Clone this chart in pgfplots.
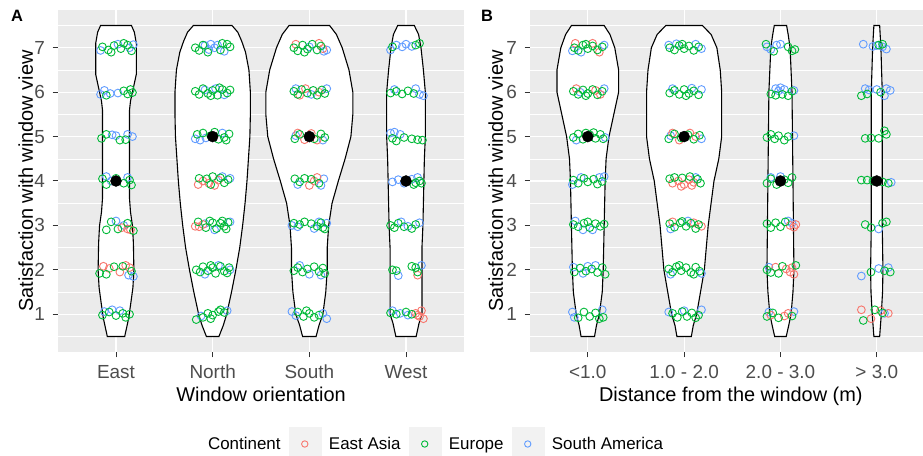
\documentclass[border=0pt]{standalone}
\usepackage{pgfplots}
\usepackage{pgfplotstable}
\pgfplotsset{compat=1.18}
\usepgfplotslibrary{fillbetween}
\usepackage{fontspec}
\setmainfont{Liberation Sans}

\definecolor{ea}{HTML}{F8766D}
\definecolor{eu}{HTML}{00BA38}
\definecolor{sa}{HTML}{619CFF}
\definecolor{panel}{HTML}{EBEBEB}
\definecolor{keybg}{HTML}{F2F2F2}
\definecolor{gray20}{HTML}{333333}
\definecolor{gray30}{HTML}{4D4D4D}

% violin outlines: y, half width (x units)
\pgfplotstableread{
y w
7.5 0.16
7.35 0.19
7.1 0.21
6.4 0.21
6.2 0.19
6.0 0.17
5.8 0.15
5.6 0.14
3.6 0.14
3.3 0.15
3.0 0.17
2.6 0.18
2.0 0.185
1.6 0.175
1.2 0.15
0.9 0.13
0.7 0.11
0.5 0.09
}\vEast
\pgfplotstableread{
y w
7.5 0.20
7.35 0.26
7.15 0.30
6.9 0.34
6.5 0.375
6.0 0.39
5.5 0.39
5.0 0.385
4.5 0.37
4.0 0.355
3.5 0.335
3.0 0.31
2.5 0.28
2.0 0.24
1.5 0.195
1.0 0.145
0.75 0.11
0.5 0.065
}\vNorth
\pgfplotstableread{
y w
7.5 0.21
7.3 0.28
7.0 0.34
6.5 0.41
6.0 0.45
5.5 0.45
5.0 0.43
4.5 0.37
4.0 0.30
3.5 0.235
3.0 0.20
2.5 0.185
2.0 0.185
1.5 0.17
1.0 0.14
0.75 0.10
0.5 0.07
}\vSouth
\pgfplotstableread{
y w
7.5 0.086
7.3 0.13
7.0 0.155
6.5 0.18
6.0 0.20
5.0 0.20
4.5 0.19
4.0 0.185
3.0 0.175
2.5 0.165
1.0 0.165
0.8 0.135
0.5 0.105
}\vWest
\pgfplotstableread{
y w
7.5 0.17
7.3 0.23
7.0 0.28
6.5 0.32
6.0 0.32
5.5 0.27
5.0 0.22
4.5 0.19
4.0 0.18
3.0 0.17
2.0 0.16
1.5 0.15
1.0 0.12
0.75 0.09
0.5 0.07
}\vBa
\pgfplotstableread{
y w
7.5 0.19
7.3 0.28
7.0 0.34
6.5 0.375
6.0 0.39
5.0 0.39
4.5 0.36
4.0 0.31
3.5 0.28
3.0 0.25
2.5 0.23
2.0 0.21
1.5 0.17
1.0 0.13
0.75 0.095
0.5 0.075
}\vBb
\pgfplotstableread{
y w
7.5 0.064
7.3 0.08
7.0 0.10
6.5 0.11
6.0 0.12
5.0 0.125
4.0 0.13
3.0 0.135
2.0 0.14
1.5 0.13
1.0 0.11
0.75 0.086
0.5 0.06
}\vBc
\pgfplotstableread{
y w
7.5 0.03
7.0 0.043
6.0 0.057
3.0 0.057
2.0 0.064
1.5 0.06
1.0 0.047
0.5 0.03
}\vBd

\newcommand{\violin}[3]{%
  \addplot[draw=none, forget plot, name path=#3R] table[x expr=#1+\thisrow{w}, y=y] {#2};
  \addplot[draw=none, forget plot, name path=#3L] table[x expr=#1-\thisrow{w}, y=y] {#2};
  \addplot[fill=white, draw=black, line width=1.1bp, forget plot] fill between[of=#3R and #3L, reverse=true];
}

\pgfplotsset{
  gg/.style={
    scale only axis, height=342bp,
    ymin=0.15, ymax=7.85, xmin=0.4,
    axis background/.style={fill=panel},
    axis line style={draw=none},
    ytick={1,...,7}, minor ytick={0.5,1.5,...,7.5},
    xtick={1,2,3,4},
    xtick pos=bottom, ytick pos=left,
    grid=both,
    major grid style={white, line width=1.1bp},
    minor grid style={white, line width=0.55bp},
    tick align=outside, major tick length=5.5bp, minor tick length=0pt,
    major tick style={color=gray20, line width=1bp},
    tick label style={font=\fontsize{19}{21}\selectfont, text=gray30},
    yticklabel style={xshift=-4bp},
    xticklabel style={yshift=-4bp},
    /pgf/number format/assume math mode=true,
    ylabel={Satisfaction with window view},
  },
  pts/.style={only marks, mark=o, mark size=3.9bp, mark options={line width=0.9bp}, forget plot},
}

\begin{document}
\begin{tikzpicture}

\begin{axis}[gg, at={(58bp,104bp)}, anchor=south west, width=406bp, xmax=4.6,
  xticklabels={East,North,South,West},
  xlabel={Window orientation},
  x label style={at={(axis description cs:0.5,-0.146)}, anchor=base, font=\fontsize{20}{22}\selectfont},
  y label style={at={(axis description cs:-0.062,0.5)}, anchor=base, font=\fontsize{20}{22}\selectfont}]
\violin{1}{\vEast}{ve}
\violin{2}{\vNorth}{vn}
\violin{3}{\vSouth}{vs}
\violin{4}{\vWest}{vw}
% South America
\addplot[pts, sa] coordinates {
(0.84,6.94) (1.02,7.08) (1.14,7.00) (1.18,7.07)
(0.84,5.95) (0.88,6.04) (0.94,5.97) (1.02,5.98)
(0.96,5.04) (1.00,5.02) (1.12,5.05) (1.17,5.00)
(0.90,4.10) (0.95,4.00) (1.12,4.08)
(1.00,3.10) (1.08,3.00) (1.13,1.88) (1.18,1.85)
(0.88,1.06) (0.96,1.10) (1.04,1.08)
(1.92,7.05) (1.98,7.08) (2.02,7.00) (2.05,7.06) (1.96,6.96) (2.12,6.92)
(1.92,6.05) (2.03,6.08) (2.12,5.94)
(1.82,4.95) (1.87,4.92) (1.93,4.97) (2.10,5.08)
(2.10,4.10) (2.18,4.06)
(1.92,3.04) (2.18,3.08) (2.02,2.90)
(1.92,1.90) (2.06,2.10) (2.18,2.00)
(1.88,0.96) (2.15,1.08)
(3.15,6.92) (3.18,6.95) (3.00,7.02)
(2.86,6.08) (3.02,5.95) (3.18,6.08)
(3.14,4.92) (2.86,5.02)
(2.88,3.92) (3.12,3.90) (3.15,4.05)
(2.82,3.00) (2.88,2.97) (3.05,2.93) (3.10,3.08) (3.18,3.05)
(2.90,2.10) (3.00,1.90) (3.12,1.88)
(2.82,1.06) (2.86,0.97) (3.14,1.02) (3.18,0.90)
(3.84,6.95) (3.90,7.06) (3.96,7.02) (4.00,7.08) (4.06,7.03)
(3.88,6.06) (4.10,6.08) (4.14,5.95) (4.18,5.92)
(3.84,5.08) (3.88,5.10) (3.94,5.05)
(3.86,3.98) (3.92,4.03) (3.98,3.95) (4.06,4.04) (4.12,4.08)
(3.95,3.08) (4.02,2.98) (4.14,3.06)
(3.92,1.87) (4.16,2.10)
(3.86,1.08) (3.94,1.02) (4.02,0.98)
};
% East Asia
\addplot[pts, ea] coordinates {
(1.06,2.95) (1.12,2.92) (1.15,2.90)
(0.87,2.08) (0.93,2.03) (1.10,2.10) (1.14,2.05) (1.04,1.95)
(1.85,3.92) (1.90,4.00) (1.96,3.95) (2.02,3.90) (2.06,4.02)
(1.82,2.98) (1.86,2.97) (1.90,3.02)
(2.86,7.08) (3.10,7.10) (3.14,6.98)
(2.96,6.08) (3.10,6.00) (2.90,5.93)
(2.88,5.08) (2.95,4.93) (3.02,5.07) (3.08,4.92)
(3.00,3.90) (3.05,4.00) (3.08,4.08)
(4.12,1.88)
(4.10,1.02) (4.14,0.95) (4.16,1.08) (4.18,0.90) (4.12,0.98)
};
% Europe
\addplot[pts, eu] coordinates {
(0.86,7.02) (0.92,6.95) (0.98,7.05) (1.05,6.98) (1.12,7.06) (1.16,6.93) (0.95,6.90) (1.08,7.10)
(0.90,5.93) (1.08,6.03) (1.12,5.96) (1.15,6.06) (1.17,5.99)
(0.85,4.96) (0.90,5.05) (1.04,4.92) (1.10,4.93)
(0.86,4.05) (0.90,3.92) (1.00,4.06) (1.08,3.95) (1.14,4.02) (1.16,3.91)
(0.90,2.90) (0.95,3.08) (1.02,2.92) (1.12,3.05) (1.18,2.88)
(0.83,1.92) (0.90,1.90) (0.98,2.07) (1.07,2.08) (1.16,1.97)
(0.86,0.98) (0.93,1.05) (1.00,0.97) (1.07,1.02) (1.14,1.00) (1.10,0.93)
(1.82,7.00) (1.86,6.94) (1.90,7.06) (2.08,6.95) (2.15,7.08) (1.95,6.90) (2.10,7.10) (2.18,7.02)
(1.82,6.02) (1.86,5.95) (1.90,6.08) (1.95,5.97) (2.00,6.04) (2.05,5.93) (2.10,6.06) (2.15,5.98) (2.18,6.05) (1.98,5.92) (2.07,6.10)
(1.84,5.05) (1.90,5.08) (1.98,5.02) (2.06,4.94) (2.12,4.98) (2.17,5.06) (2.02,5.10) (2.14,4.92)
(1.86,4.06) (1.94,4.05) (2.00,4.10) (2.08,4.07) (2.12,3.96) (2.16,4.03) (1.98,3.92)
(1.85,3.08) (1.93,2.95) (2.00,3.06) (2.04,2.93) (2.08,3.05) (2.12,2.98) (2.16,3.07) (2.14,2.92) (1.97,3.10) (2.10,3.10)
(1.83,2.00) (1.87,1.95) (1.90,2.07) (1.95,1.98) (2.00,2.05) (2.03,1.92) (2.08,2.08) (2.12,1.97) (2.17,2.05) (2.15,1.93) (1.98,2.10)
(1.83,0.88) (1.90,0.93) (1.95,1.02) (2.00,0.98) (2.06,1.06) (2.12,1.04) (1.98,0.90) (2.08,1.10)
(2.84,7.00) (2.88,6.93) (2.93,7.06) (2.98,6.97) (3.03,7.08) (3.08,6.95) (3.12,7.04) (2.95,6.90)
(2.84,6.02) (2.88,5.95) (2.92,6.06) (2.98,5.98) (3.04,6.04) (3.08,5.93) (3.13,6.05) (3.16,5.97)
(2.85,4.95) (2.90,5.05) (3.05,4.95) (3.12,5.06) (3.16,4.98)
(2.85,4.05) (2.90,3.98) (2.95,4.06) (3.02,4.04) (3.10,3.95)
(2.84,3.05) (2.90,3.02) (2.95,3.08) (3.02,3.04) (3.08,2.98) (3.14,2.95) (3.16,2.92) (3.12,3.06)
(2.84,1.98) (2.88,2.05) (2.93,1.95) (2.98,2.02) (3.05,2.07) (3.10,1.96) (3.14,2.04) (3.16,1.92)
(2.88,1.05) (2.94,0.95) (3.00,1.02) (3.05,0.93) (3.10,0.98) (2.97,1.08)
(3.86,7.02) (4.10,7.06) (4.14,7.10)
(3.84,5.98) (3.90,6.02) (3.96,5.96) (4.02,6.03) (4.08,5.97)
(3.86,4.96) (3.90,4.90) (3.98,4.98) (4.06,4.95) (4.12,4.93) (4.17,4.92)
(4.08,3.92) (4.14,4.00) (4.16,3.95) (4.10,3.96)
(3.84,3.00) (3.88,2.95) (3.92,3.05) (3.98,2.97) (4.06,2.93) (4.10,3.02)
(3.86,2.00) (3.90,1.98) (4.06,2.08) (4.10,2.05) (4.12,1.95)
(3.84,1.03) (3.90,1.00) (4.00,1.05) (4.06,1.00)
};
% medians
\addplot[only marks, mark=*, mark size=5.5bp, black, forget plot] coordinates {(1,4) (2,5) (3,5) (4,4)};
\end{axis}

\begin{axis}[gg, at={(530bp,104bp)}, anchor=south west, width=393bp, xmax=4.48,
  xticklabels={{<1.0},{1.0 - 2.0},{2.0 - 3.0},{> 3.0}},
  xlabel={Distance from the window (m)},
  x label style={at={(axis description cs:0.511,-0.146)}, anchor=base, font=\fontsize{20}{22}\selectfont},
  y label style={at={(axis description cs:-0.069,0.5)}, anchor=base, font=\fontsize{20}{22}\selectfont},
  legend style={at={(axis description cs:-0.84,-0.269)}, anchor=west, draw=none, fill=none,
    legend columns=-1, inner sep=0pt, font=\fontsize{17}{19}\selectfont,
    /tikz/every odd column/.append style={column sep=8bp},
    /tikz/every even column/.append style={column sep=8bp},
    nodes={inner sep=0pt}}]
\violin{1}{\vBa}{ba}
\violin{2}{\vBb}{bb}
\violin{3}{\vBc}{bc}
\violin{4}{\vBd}{bd}
% South America
\addplot[pts, sa] coordinates {
(0.84,6.93) (1.17,7.06) (0.93,6.90)
(1.17,6.08) (0.92,6.00)
(0.88,4.92) (1.18,4.98)
(0.84,3.92) (0.93,4.08) (1.12,4.08) (1.17,4.10)
(0.87,3.10) (0.95,2.90) (1.05,2.90)
(0.85,2.06) (0.95,1.92) (1.00,2.08) (1.08,2.10)
(0.84,1.05) (0.86,0.93) (1.15,1.10)
(1.84,7.06) (2.18,6.98) (1.92,7.09) (2.12,7.08)
(1.88,6.08) (2.18,6.06) (2.08,6.09)
(1.86,5.02) (2.18,4.95)
(2.12,4.08)
(1.86,2.92) (2.04,3.10)
(1.86,1.90) (2.18,1.92)
(1.84,1.05) (2.18,1.10) (2.00,1.08)
(2.86,7.02) (2.90,6.96) (2.96,7.06) (3.00,7.08)
(2.95,6.08) (3.00,6.10) (3.04,6.06) (2.98,6.03) (3.14,6.04)
(3.14,5.02)
(2.90,4.08) (3.00,4.10)
(3.08,3.10) (3.12,3.05)
(2.88,2.06)
(3.14,1.06) (2.88,1.05)
(3.86,7.08) (3.96,7.03) (4.00,7.05) (4.06,7.02) (4.10,6.97)
(3.88,6.08) (3.92,6.05) (4.00,6.06) (4.10,6.08) (4.14,6.04) (4.08,5.92)
(4.15,3.97)
(4.02,2.92)
(3.84,1.86) (4.02,2.03) (4.12,2.05)
(4.08,1.02)
};
% East Asia
\addplot[pts, ea] coordinates {
(0.87,7.10) (1.12,6.90) (1.05,7.10)
(0.88,6.08) (1.08,6.04) (1.13,5.95)
(1.88,5.08) (1.95,4.92) (2.06,5.08) (2.12,5.00)
(1.88,3.95) (1.94,4.00) (2.00,3.92) (2.05,4.03) (2.10,3.97) (1.97,3.88) (2.08,3.90)
(1.88,3.08) (2.10,3.06) (2.18,2.98)
(3.10,3.00) (3.14,2.96) (3.16,3.02)
(3.06,2.02) (3.10,1.95) (3.14,1.90) (3.12,2.05) (2.95,2.06)
(2.90,0.98) (3.04,0.96) (3.08,1.02)
(3.84,1.10) (4.04,1.08) (4.12,1.02) (3.94,0.90)
};
% Europe
\addplot[pts, eu] coordinates {
(0.86,7.00) (0.90,6.94) (0.95,7.06) (1.00,6.98) (1.05,7.04) (1.10,6.95) (1.15,7.02) (0.98,7.08)
(0.85,6.02) (0.90,5.95) (0.95,6.05) (1.00,5.97) (1.05,6.06) (1.10,5.94) (1.15,6.02) (0.98,5.92)
(0.85,4.98) (0.90,5.06) (0.95,4.94) (1.02,5.04) (1.08,4.96) (1.13,5.05) (1.16,4.95) (0.98,5.08) (1.06,5.09)
(0.85,4.02) (0.90,3.95) (0.96,4.06) (1.00,3.98) (1.06,4.04) (1.10,3.93) (1.15,3.99)
(0.85,3.02) (0.90,2.97) (0.96,3.05) (1.02,2.95) (1.08,3.04) (1.13,2.98) (1.17,3.03) (1.00,3.08)
(0.86,1.95) (0.92,2.04) (0.98,1.97) (1.04,2.02) (1.10,1.94) (1.15,2.05) (1.18,1.90)
(0.90,0.92) (0.96,1.05) (1.02,0.95) (1.08,1.03) (1.12,0.90) (1.16,0.93)
(1.85,7.00) (1.90,6.95) (1.95,7.05) (2.00,6.98) (2.05,7.04) (2.10,6.94) (2.15,7.02) (1.98,7.08)
(1.85,5.98) (1.90,6.04) (1.95,5.95) (2.00,6.06) (2.05,5.97) (2.10,6.03) (2.15,5.94) (2.02,5.92)
(1.84,4.95) (1.90,5.06) (1.97,4.97) (2.04,5.04) (2.10,4.94) (2.16,5.03)
(1.85,4.05) (1.90,4.08) (1.98,4.07) (2.06,4.10) (2.14,4.04) (2.17,3.95)
(1.85,3.04) (1.90,2.96) (1.96,3.06) (2.02,2.98) (2.07,3.05) (2.12,2.93) (2.15,3.02) (1.98,3.09)
(1.84,2.02) (1.88,1.95) (1.92,2.07) (1.97,1.98) (2.02,2.05) (2.07,1.94) (2.12,2.06) (2.16,1.97) (1.95,2.10) (2.10,1.90)
(1.88,1.02) (1.93,0.93) (1.98,1.06) (2.03,0.95) (2.08,1.03) (2.12,0.92) (2.15,0.98)
(2.85,7.08) (2.93,6.92) (3.08,7.02) (3.12,6.93) (3.15,6.96)
(2.90,5.96) (2.95,5.93) (3.02,5.95) (3.08,5.92) (3.12,6.02)
(2.86,4.98) (2.90,5.05) (2.94,4.95) (2.98,5.02) (3.04,4.92) (3.08,5.00)
(2.86,3.95) (2.90,4.05) (2.96,3.92) (3.04,4.03) (3.08,3.96) (3.12,4.08)
(2.86,3.04) (2.90,2.95) (2.95,3.06) (3.00,2.97) (3.05,3.08)
(2.86,2.00) (2.90,1.94) (2.98,1.92) (3.02,2.08) (3.16,2.10)
(2.86,0.95) (2.92,1.03) (2.98,0.92) (3.12,0.96)
(4.02,7.06) (4.06,7.08)
(3.84,5.92) (3.90,5.96) (4.04,6.00)
(3.88,4.96) (3.94,4.97) (4.02,4.96) (4.10,5.05) (4.08,5.13)
(3.84,4.02) (3.90,4.02) (3.96,4.00) (4.06,3.98) (4.12,3.95)
(3.88,3.02) (3.94,2.95) (4.06,3.05) (4.10,3.08)
(3.94,1.95) (4.08,1.98) (4.14,1.95)
(3.86,0.86) (3.98,1.10) (4.06,1.03)
};
\addplot[only marks, mark=*, mark size=5.5bp, black, forget plot] coordinates {(1,5) (2,5) (3,4) (4,4)};
% legend
\addlegendimage{empty legend}
\addlegendentry{Continent}
\addlegendimage{legend image code/.code={\fill[keybg] (0bp,-17bp) rectangle (32bp,17bp); \draw[ea, line width=0.9bp] (16bp,0bp) circle (3.2bp);}}
\addlegendentry{East Asia}
\addlegendimage{legend image code/.code={\fill[keybg] (0bp,-17bp) rectangle (32bp,17bp); \draw[eu, line width=0.9bp] (16bp,0bp) circle (3.2bp);}}
\addlegendentry{Europe}
\addlegendimage{legend image code/.code={\fill[keybg] (0bp,-17bp) rectangle (32bp,17bp); \draw[sa, line width=0.9bp] (16bp,0bp) circle (3.2bp);}}
\addlegendentry{South America}
\end{axis}

\node[anchor=base west, inner sep=0pt, font=\bfseries\fontsize{16.5}{18}\selectfont] at (11bp,434bp) {A};
\node[anchor=base west, inner sep=0pt, font=\bfseries\fontsize{16.5}{18}\selectfont] at (481bp,434bp) {B};

\pgfresetboundingbox
\useasboundingbox (0,0) rectangle (923bp,456bp);
\end{tikzpicture}
\end{document}
